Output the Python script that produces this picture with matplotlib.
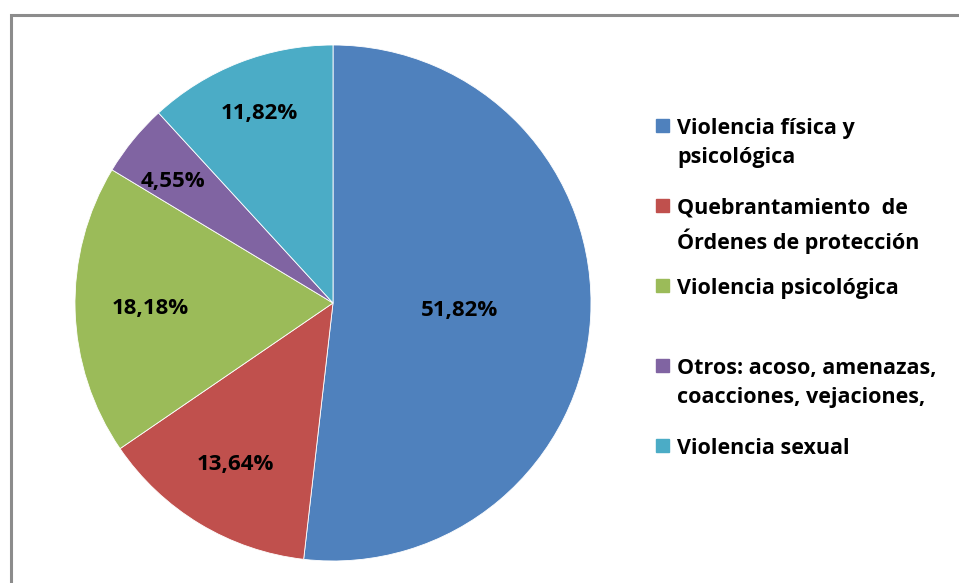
import numpy as np
import matplotlib
matplotlib.use("Agg")
import matplotlib.pyplot as plt
from matplotlib.patches import Rectangle

# ================== DATA ==================
categories = [
    "Violencia física y\npsicológica",
    "Quebrantamiento  de\nÓrdenes de protección",
    "Violencia psicológica",
    "Otros: acoso, amenazas,\ncoacciones, vejaciones,",
    "Violencia sexual",
]
values = [51.82, 13.64, 18.18, 4.55, 11.82]
pct_labels = ["51,82%", "13,64%", "18,18%", "4,55%", "11,82%"]
colors = ["#4F81BD", "#C0504D", "#9BBB59", "#8064A2", "#4BACC6"]

# label placement (fraction of radius, angle nudge in deg)
label_dist = [0.49, 0.73, 0.71, 0.78, 0.79]
label_nudge = [0, 0, 0, 2, 0]

W, H = 959, 583
plt.rcParams['font.family'] = ['Open Sans', 'DejaVu Sans']

fig = plt.figure(figsize=(W / 100, H / 100), dpi=100)

# chart frame (only top and left visible)
fig.patches.append(Rectangle((11 / W, -0.1), 1.2, 1 - 15 / H + 0.1,
                             transform=fig.transFigure, fill=False,
                             edgecolor="#8c8c8c", linewidth=2.2))

# pie axes: center (333, 303), radius 258 px
cx, cy, r = 333, 303, 258
ax = fig.add_axes([(cx - r) / W, (H - cy - r) / H, 2 * r / W, 2 * r / H])
wedges, _ = ax.pie(values, colors=colors, startangle=90, counterclock=False,
                   radius=1, wedgeprops=dict(edgecolor="white", linewidth=0.6))
ax.set_xlim(-1, 1)
ax.set_ylim(-1, 1)
ax.set_aspect("auto")
ax.axis("off")

for w, lab, d, n in zip(wedges, pct_labels, label_dist, label_nudge):
    ang = np.deg2rad((w.theta1 + w.theta2) / 2 + n)
    ax.text(d * np.cos(ang), d * np.sin(ang), lab, ha="center", va="center",
            fontsize=16, fontweight="bold", color="black")

# legend drawn by hand
leg_x, leg_y0, leg_step = 656, 128, 80
for i, (lab, c) in enumerate(zip(categories, colors)):
    y = leg_y0 + i * leg_step
    fig.patches.append(Rectangle((leg_x / W, 1 - (y + 4) / H), 13 / W, 13 / H,
                                 transform=fig.transFigure, color=c))
    fig.text((leg_x + 21) / W, 1 - (y - 10) / H, lab, ha="left", va="top",
             fontsize=15.5, fontweight="bold", linespacing=1.47)

fig.savefig("out.png", dpi=100)
